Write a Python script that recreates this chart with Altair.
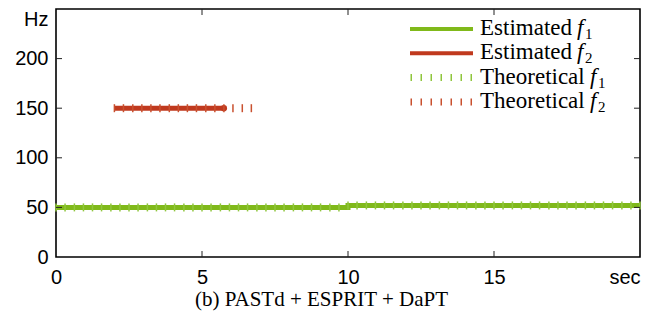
import altair as alt
import pandas as pd

# ---------------- data ----------------
est_f1_t = [0, 10, 10, 20]
est_f1_hz = [50, 50, 52, 52]
est_f2_t = [2, 5.75]
est_f2_hz = [150, 150]

theo_f1_t = [0, 0.31, 0.63, 0.94, 1.25, 1.56, 1.88, 2.19, 2.5, 2.81, 3.13, 3.44, 3.75,
             4.06, 4.38, 4.69, 5, 5.31, 5.63, 5.94, 6.25, 6.56, 6.88, 7.19, 7.5, 7.81,
             8.13, 8.44, 8.75, 9.06, 9.38, 9.69, 10, 10.31, 10.63, 10.94, 11.25, 11.56,
             11.88, 12.19, 12.5, 12.81, 13.13, 13.44, 13.75, 14.06, 14.38, 14.69, 15,
             15.31, 15.63, 15.94, 16.25, 16.56, 16.88, 17.19, 17.5, 17.81, 18.13, 18.44,
             18.75, 19.06, 19.38, 19.69, 20]
theo_f1_hz = [50, 50, 50, 50, 50, 50, 50, 50, 50, 50, 50, 50, 50, 50, 50, 50,
              50, 50, 50, 50, 50, 50, 50, 50, 50, 50, 50, 50, 50, 50, 50, 50,
              52, 52, 52, 52, 52, 52, 52, 52, 52, 52, 52, 52, 52, 52, 52, 52,
              52, 52, 52, 52, 52, 52, 52, 52, 52, 52, 52, 52, 52, 52, 52, 52, 52]
theo_f2_t = [2, 2.31, 2.63, 2.94, 3.25, 3.56, 3.88, 4.19, 4.5, 4.81, 5.13, 5.44,
             5.75, 6.06, 6.38, 6.69]
theo_f2_hz = [150, 150, 150, 150, 150, 150, 150, 150, 150, 150, 150, 150,
              150, 150, 150, 150]

x_tick_values = [0, 5, 10, 15, 20]
x_tick_labels = ["0", "5", "10", "15", "sec"]
y_tick_values = [0, 50, 100, 150, 200, 250]
y_tick_labels = ["0", "50", "100", "150", "200", "Hz"]
inner_x_ticks = [5, 10, 15]
inner_y_ticks = [50, 100, 150, 200]

legend_words = ["Estimated", "Estimated", "Theoretical", "Theoretical"]
legend_subs = ["1", "2", "1", "2"]
caption = "(b) PASTd + ESPRIT + DaPT"

GREEN = "#80b91a"
RED = "#c0391e"
GREEN_T = "#8fc63c"
RED_T = "#c9502f"

W, H = 584, 248


def label_expr(values, labels):
    expr = "datum.label"
    for v, l in zip(values, labels):
        expr = f"datum.value == {v} ? '{l}' : ({expr})"
    return expr


xs = alt.Scale(domain=[0, 20], nice=False, zero=False)
ys = alt.Scale(domain=[0, 250], nice=False, zero=False)
x_axis = alt.Axis(values=x_tick_values, labelExpr=label_expr(x_tick_values, x_tick_labels),
                  title=None, grid=False, ticks=False, domain=False,
                  labelFont="Liberation Sans", labelFontSize=20, labelColor="black",
                  labelPadding=10, labelFlush=False,
                  labelAlign=alt.expr("datum.value == 20 ? 'right' : 'center'"))
y_axis = alt.Axis(values=y_tick_values, labelExpr=label_expr(y_tick_values, y_tick_labels),
                  title=None, grid=False, ticks=False, domain=False,
                  labelFont="Liberation Sans", labelFontSize=20, labelColor="black",
                  labelPadding=8, labelFlush=False,
                  labelBaseline=alt.expr("datum.value == 250 ? 'top' : 'middle'"))


def xe(field):
    return alt.X(f"{field}:Q", scale=xs, axis=x_axis)


def ye(field):
    return alt.Y(f"{field}:Q", scale=ys, axis=y_axis)


est1 = pd.DataFrame({"t": est_f1_t, "hz": est_f1_hz})
est2 = pd.DataFrame({"t": est_f2_t, "hz": est_f2_hz})
th1 = pd.DataFrame({"t": theo_f1_t, "hz": theo_f1_hz})
th2 = pd.DataFrame({"t": theo_f2_t, "hz": theo_f2_hz})

layers = []
layers.append(alt.Chart(est1).mark_line(color=GREEN, strokeWidth=5, strokeCap="butt")
              .encode(x=xe("t"), y=ye("hz")))
layers.append(alt.Chart(est2).mark_line(color=RED, strokeWidth=5, strokeCap="butt")
              .encode(x=xe("t"), y=ye("hz")))
layers.append(alt.Chart(est2.tail(1)).mark_point(color=RED, filled=True, size=40, opacity=1)
              .encode(x=xe("t"), y=ye("hz")))
layers.append(alt.Chart(th1).mark_tick(color=GREEN_T, orient="vertical", size=8, thickness=1.5, opacity=1)
              .encode(x=xe("t"), y=ye("hz")))
layers.append(alt.Chart(th2).mark_tick(color=RED_T, orient="vertical", size=8, thickness=1.5, opacity=1)
              .encode(x=xe("t"), y=ye("hz")))

# inward ticks on all four sides
xt = pd.DataFrame({"t": inner_x_ticks})
yt = pd.DataFrame({"hz": inner_y_ticks})
layers.append(alt.Chart(xt).mark_rule(color="#222", strokeWidth=1)
              .encode(x=xe("t"), y=alt.value(H), y2=alt.value(H - 6)))
layers.append(alt.Chart(xt).mark_rule(color="#222", strokeWidth=1)
              .encode(x=xe("t"), y=alt.value(0), y2=alt.value(6)))
layers.append(alt.Chart(yt).mark_rule(color="#222", strokeWidth=1)
              .encode(y=ye("hz"), x=alt.value(0), x2=alt.value(6)))
layers.append(alt.Chart(yt).mark_rule(color="#222", strokeWidth=1)
              .encode(y=ye("hz"), x=alt.value(W), x2=alt.value(W - 6)))

# legend (manual)
one = pd.DataFrame({"a": [0]})
leg_x0, leg_x1 = 354, 417
text_x = 424
row_line_y = [20, 44.3, 68.6, 93]
row_base_y = [26, 50.3, 74.6, 99]
f_x = [521, 521, 534, 534]
sample_colors = [GREEN, RED, GREEN_T, RED_T]
for i in range(4):
    if i < 2:
        layers.append(alt.Chart(one).mark_rule(color=sample_colors[i], strokeWidth=4, strokeCap="butt")
                      .encode(x=alt.value(leg_x0), x2=alt.value(leg_x1), y=alt.value(row_line_y[i])))
    else:
        layers.append(alt.Chart(one).mark_rule(color=sample_colors[i], strokeWidth=7, strokeCap="butt",
                                               strokeDash=[1.5, 8.5])
                      .encode(x=alt.value(leg_x0 + 0.5), x2=alt.value(leg_x1), y=alt.value(row_line_y[i])))
    layers.append(alt.Chart(one).mark_text(text=legend_words[i], font="Liberation Serif", fontSize=23,
                                           align="left", baseline="alphabetic", color="black")
                  .encode(x=alt.value(text_x), y=alt.value(row_base_y[i])))
    layers.append(alt.Chart(one).mark_text(text="f", font="Liberation Serif", fontSize=23, fontStyle="italic",
                                           align="left", baseline="alphabetic", color="black")
                  .encode(x=alt.value(f_x[i]), y=alt.value(row_base_y[i])))
    layers.append(alt.Chart(one).mark_text(text=legend_subs[i], font="Liberation Serif", fontSize=15,
                                           align="left", baseline="alphabetic", color="black")
                  .encode(x=alt.value(f_x[i] + 8), y=alt.value(row_base_y[i] + 4)))

# caption
layers.append(alt.Chart(one).mark_text(text=caption, font="Liberation Serif", fontSize=21,
                                       align="center", baseline="alphabetic", color="black")
              .encode(x=alt.value(265.5), y=alt.value(297)))

chart = alt.layer(*layers).properties(
    width=W, height=H,
    padding={"left": 48, "top": 1, "right": 12, "bottom": 57},
    autosize=alt.AutoSizeParams(type="none"),
).configure_view(stroke="black", strokeWidth=1.6)

chart.save("out.html", embed_options={"renderer": "svg", "actions": False})
